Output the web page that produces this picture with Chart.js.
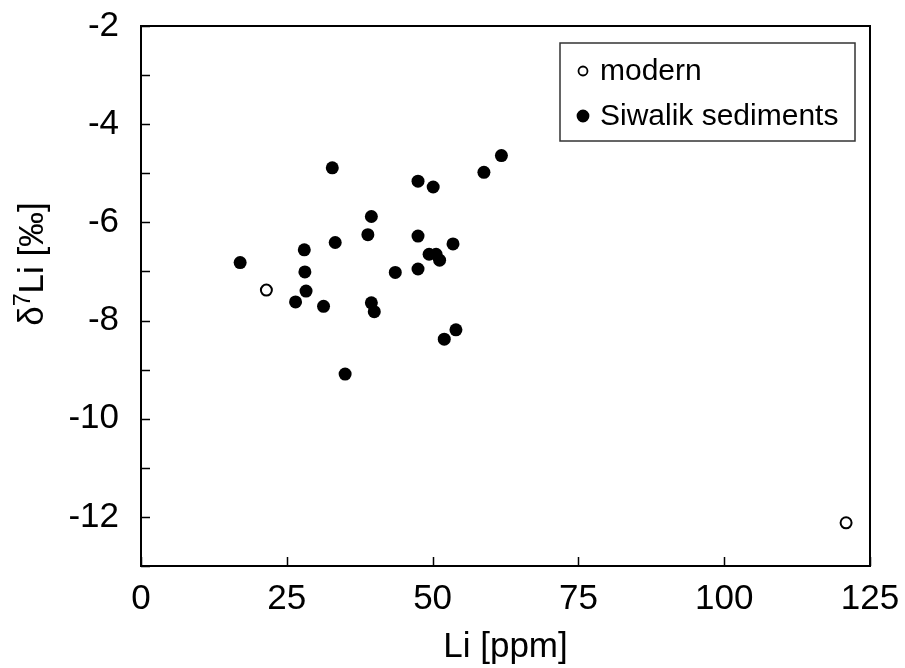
<!DOCTYPE html>
<html>
<head>
<meta charset="utf-8">
<script src="https://cdn.jsdelivr.net/npm/chart.js@4.4.0/dist/chart.umd.min.js"></script>
<style>
  html, body { margin: 0; padding: 0; background: #fff; }
  #wrap { width: 905px; height: 668px; }
</style>
</head>
<body>
<div id="wrap"><canvas id="liPlot" width="905" height="668"></canvas></div>
<script>
// Li concentration [ppm] vs d7Li [permil]
const modernLi = [21.5, 120.9];
const modernD7Li = [-7.38, -12.12];

const siwalikLi = [17.0, 28.0, 28.1, 28.3, 26.5, 31.3, 32.8, 33.3, 35.0, 38.9, 39.5, 39.5, 40.0,
                   43.6, 47.5, 47.5, 47.5, 50.1, 49.4, 50.6, 51.2, 53.5, 54.0, 52.0, 58.8, 61.8];
const siwalikD7Li = [-6.82, -6.56, -7.01, -7.40, -7.62, -7.71, -4.89, -6.41, -9.09, -6.25, -5.88, -7.64, -7.82,
                     -7.02, -5.16, -6.28, -6.95, -5.28, -6.65, -6.65, -6.77, -6.44, -8.19, -8.38, -4.98, -4.64];

const xTicks = [0, 25, 50, 75, 100, 125];
const yLabelled = [-2, -4, -6, -8, -10, -12];

const FONT = "'Liberation Sans', Arial, sans-serif";

function toPoints(xs, ys) {
  return xs.map((x, i) => ({ x: x, y: ys[i] }));
}

// frame + inward tick marks
const frameTicks = {
  id: 'frameTicks',
  afterDraw(chart) {
    const { ctx, chartArea: a, scales } = chart;
    ctx.save();
    ctx.strokeStyle = '#000';
    ctx.lineWidth = 2;
    ctx.strokeRect(a.left, a.top, a.right - a.left, a.bottom - a.top);
    ctx.lineWidth = 1.5;
    ctx.beginPath();
    scales.y.ticks.forEach(t => {
      const py = Math.round(scales.y.getPixelForValue(t.value)) + 0.5;
      ctx.moveTo(a.left, py);
      ctx.lineTo(a.left + 9, py);
    });
    scales.x.ticks.forEach(t => {
      const px = Math.round(scales.x.getPixelForValue(t.value)) + 0.5;
      ctx.moveTo(px, a.bottom);
      ctx.lineTo(px, a.bottom - 9);
    });
    ctx.stroke();
    ctx.restore();
  }
};

// y title with a real superscript 7
const yTitle = {
  id: 'yTitle',
  afterDraw(chart) {
    const { ctx, chartArea: a } = chart;
    const big = '35px ' + FONT, small = '23px ' + FONT;
    const parts = [['δ', big, 0], ['7', small, -13], ['Li [‰]', big, 0]];
    ctx.save();
    ctx.font = big;
    let total = 0;
    parts.forEach(p => { ctx.font = p[1]; total += ctx.measureText(p[0]).width; });
    ctx.translate(a.left - 98, (a.top + a.bottom) / 2 - 32);
    ctx.rotate(-Math.PI / 2);
    ctx.fillStyle = '#000';
    ctx.textBaseline = 'alphabetic';
    let x = -total / 2;
    parts.forEach(p => {
      ctx.font = p[1];
      ctx.fillText(p[0], x, p[2]);
      x += ctx.measureText(p[0]).width;
    });
    ctx.restore();
  }
};

// boxed legend in the upper right corner
const boxLegend = {
  id: 'boxLegend',
  afterDraw(chart) {
    const { ctx, chartArea: a } = chart;
    const x0 = a.right - 310, y0 = a.top + 17, w = 295, h = 98;
    ctx.save();
    ctx.fillStyle = '#fff';
    ctx.fillRect(x0, y0, w, h);
    ctx.strokeStyle = '#333';
    ctx.lineWidth = 1.5;
    ctx.strokeRect(x0, y0, w, h);
    ctx.font = '30px ' + FONT;
    ctx.textBaseline = 'alphabetic';
    chart.data.datasets.forEach((ds, i) => {
      const cy = y0 + 28 + i * 45;
      ctx.beginPath();
      ctx.arc(x0 + 23, cy, i === 0 ? 4.5 : 5.5, 0, Math.PI * 2);
      ctx.fillStyle = ds.backgroundColor;
      ctx.fill();
      ctx.lineWidth = 1.8;
      ctx.strokeStyle = '#000';
      ctx.stroke();
      ctx.fillStyle = '#000';
      ctx.fillText(ds.label, x0 + 40, cy + 9 + i * 0);
    });
    ctx.restore();
  }
};

new Chart(document.getElementById('liPlot'), {
  type: 'scatter',
  data: {
    datasets: [
      {
        label: 'modern',
        data: toPoints(modernLi, modernD7Li),
        backgroundColor: '#fff',
        borderColor: '#000',
        borderWidth: 2,
        pointRadius: 5.5
      },
      {
        label: 'Siwalik sediments',
        data: toPoints(siwalikLi, siwalikD7Li),
        backgroundColor: '#000',
        borderColor: '#000',
        borderWidth: 0,
        pointRadius: 6.5
      }
    ]
  },
  options: {
    responsive: false,
    devicePixelRatio: 1,
    animation: false,
    layout: { padding: { top: 26, right: 35, left: 0, bottom: 0 } },
    plugins: {
      legend: { display: false },
      tooltip: { enabled: false }
    },
    scales: {
      x: {
        type: 'linear',
        min: 0,
        max: 125,
        afterFit: s => { s.height = 102; s.paddingLeft = 0; s.paddingRight = 0; },
        afterBuildTicks: s => { s.ticks = xTicks.map(v => ({ value: v })); },
        grid: { display: false, drawTicks: false },
        border: { display: false },
        ticks: {
          color: '#000',
          padding: 12,
          maxRotation: 0,
          font: { family: FONT, size: 35 }
        },
        title: {
          display: true,
          text: 'Li [ppm]',
          color: '#000',
          font: { family: FONT, size: 35 },
          padding: { top: 0, bottom: 0 }
        }
      },
      y: {
        type: 'linear',
        min: -13,
        max: -2,
        afterFit: s => { s.width = 141; s.paddingTop = 0; s.paddingBottom = 0; },
        grid: { display: false, drawTicks: false },
        border: { display: false },
        ticks: {
          stepSize: 1,
          color: '#000',
          padding: 22,
          font: { family: FONT, size: 35 },
          callback: v => (yLabelled.includes(v) ? String(v) : '')
        },
        title: { display: false }
      }
    }
  },
  plugins: [frameTicks, yTitle, boxLegend]
});
</script>
</body>
</html>
